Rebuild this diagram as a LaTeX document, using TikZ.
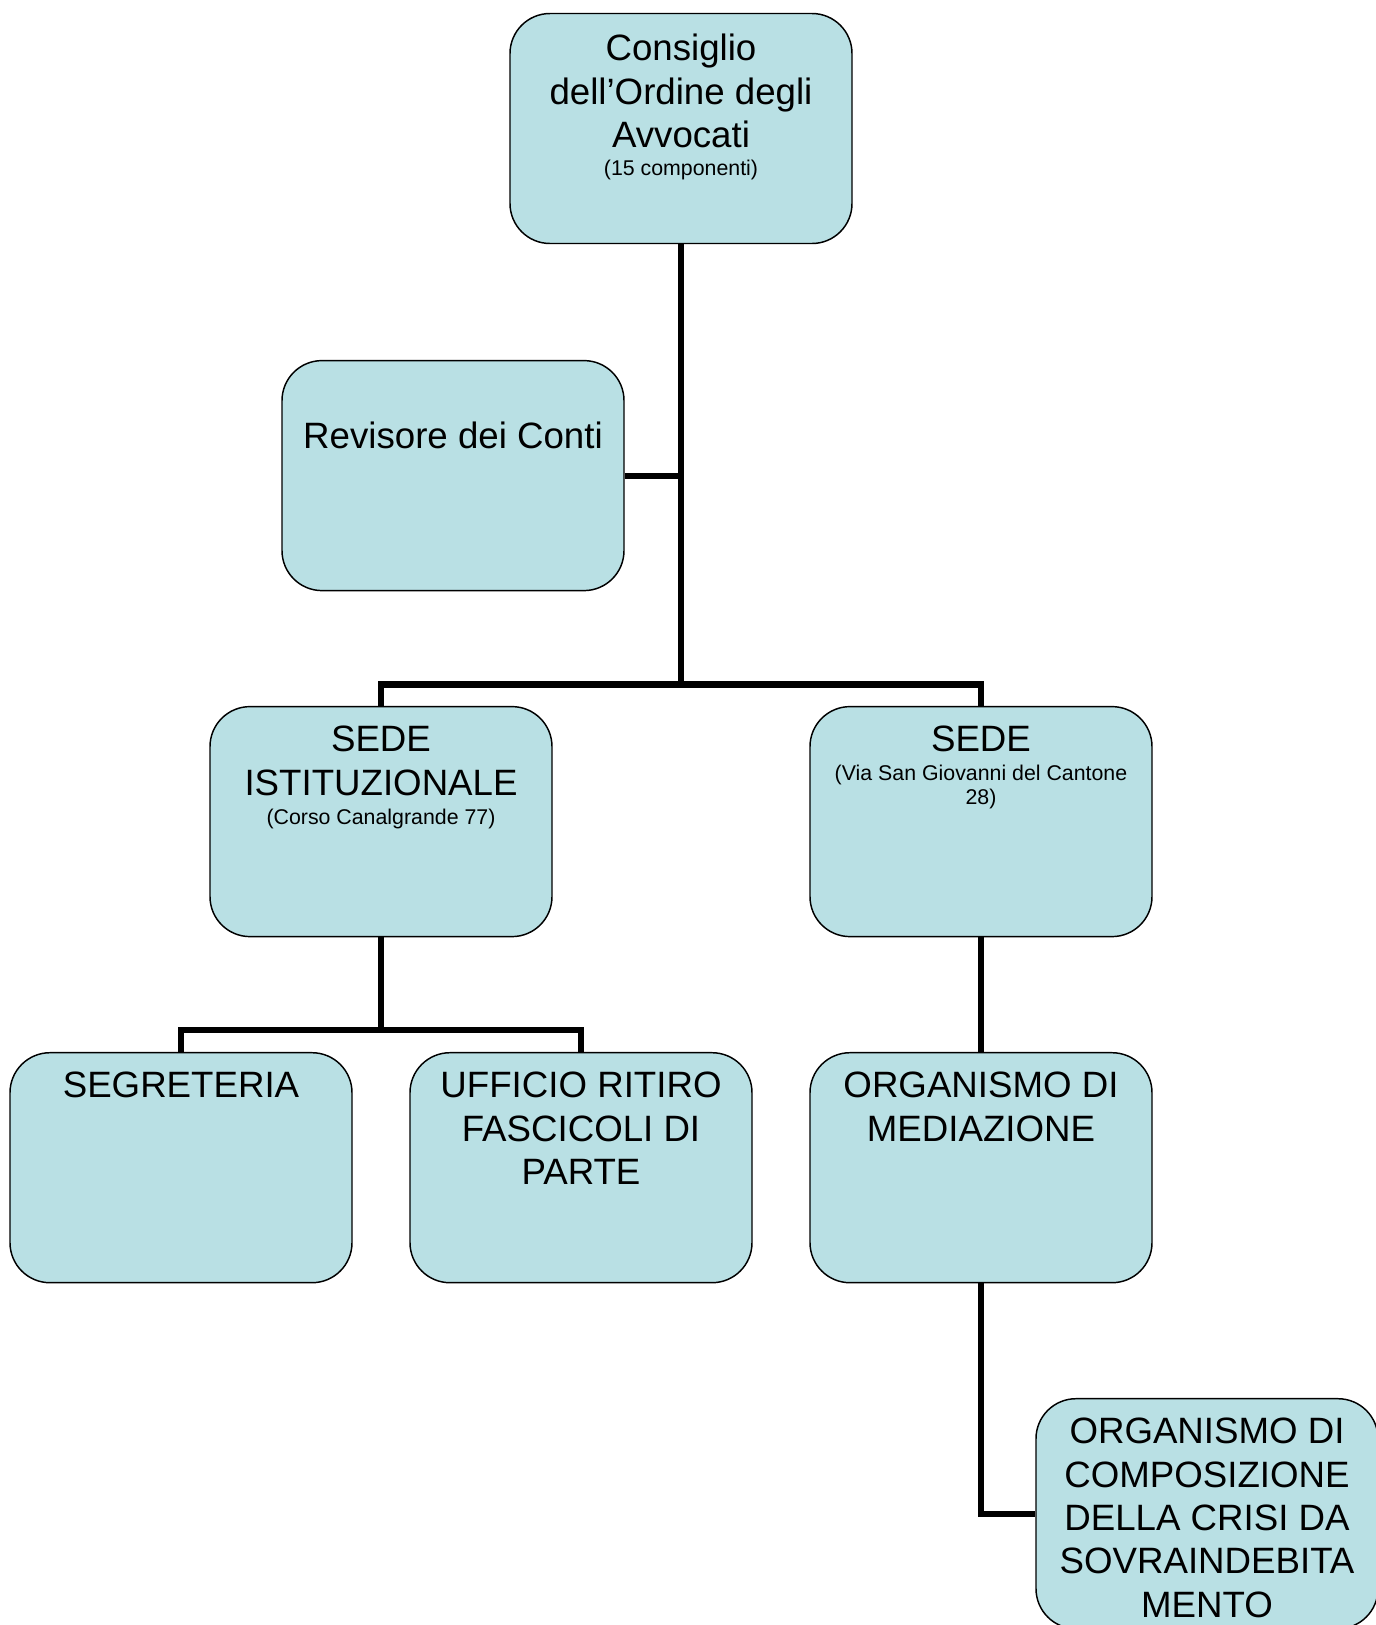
\documentclass[tikz,border=0pt]{standalone}
\usepackage{fontspec}
\setmainfont{Liberation Sans}
\usepackage{xcolor}
\usetikzlibrary{positioning, calc}

\definecolor{celeste}{RGB}{185,224,228}
\newcommand{\piccolo}{\fontsize{16}{18}\selectfont}
\tikzset{
  ente/.style={draw, fill=celeste, line width=1.1pt, rounded corners=30pt,
    minimum width=256.5pt, minimum height=172.5pt, inner sep=0pt},
  testo/.style={anchor=north, align=center, inner sep=0pt,
    font=\fontsize{27.5}{32.5}\selectfont},
  ramo/.style={line width=4.6pt},
}

\begin{document}
\begin{tikzpicture}[x=0.75pt, y=-0.75pt]
  \useasboundingbox (0,0) rectangle (1376,1625);

  % caselle
  \node[ente] (cons)  at (681,128.5)  {};
  \node[ente] (rev)   at (453,475.6)  {};
  \node[ente] (sedeI) at (381,821.6)  {};
  \node[ente] (sedeV) at (981,821.6)  {};
  \node[ente] (segr)  at (181,1167.7) {};
  \node[ente] (uff)   at (581,1167.7) {};
  \node[ente] (med)   at (981,1167.7) {};
  \node[ente] (crisi) at (1207,1513.7) {};

  % collegamenti
  \coordinate (snodo)  at (681,684.5);
  \coordinate (snodoI) at (381,1030);
  \draw[ramo] (cons.south) -- (snodo);
  \draw[ramo] (rev.east) -- (rev.east -| cons.south);
  \draw[ramo] (sedeI.north) |- (snodo) -| (sedeV.north);
  \draw[ramo] (sedeI.south) -- (snodoI);
  \draw[ramo] (segr.north) |- (snodoI) -| (uff.north);
  \draw[ramo] (sedeV.south) -- (med.north);
  \draw[ramo] (med.south) |- (crisi.west);

  % testi
  \node[testo] (consT) at ([yshift=-16pt]cons.north)
    {Consiglio\\dell’Ordine degli\\Avvocati\\[-11.5pt]{\piccolo (15 componenti)}};
  \node[testo] (revT) at ([yshift=-46.5pt]rev.north) {Revisore dei Conti};
  \node[testo] (sedeIT) at ([yshift=-15pt]sedeI.north)
    {SEDE\\ISTITUZIONALE\\[-10.7pt]{\piccolo (Corso Canalgrande 77)}};
  \node[testo] (sedeVT) at ([yshift=-15pt]sedeV.north)
    {SEDE\\[-10.7pt]{\piccolo (Via San Giovanni del Cantone}\\[-14.5pt]{\piccolo 28)}};
  \node[testo] (segrT) at ([yshift=-15pt]segr.north) {SEGRETERIA};
  \node[testo] (uffT) at ([yshift=-15pt]uff.north) {UFFICIO RITIRO\\FASCICOLI DI\\PARTE};
  \node[testo] (medT) at ([yshift=-15pt]med.north) {ORGANISMO DI\\MEDIAZIONE};
  \node[testo] (crisiT) at ([yshift=-15pt]crisi.north)
    {ORGANISMO DI\\COMPOSIZIONE\\DELLA CRISI DA\\SOVRAINDEBITA\\MENTO};
\end{tikzpicture}
\end{document}
